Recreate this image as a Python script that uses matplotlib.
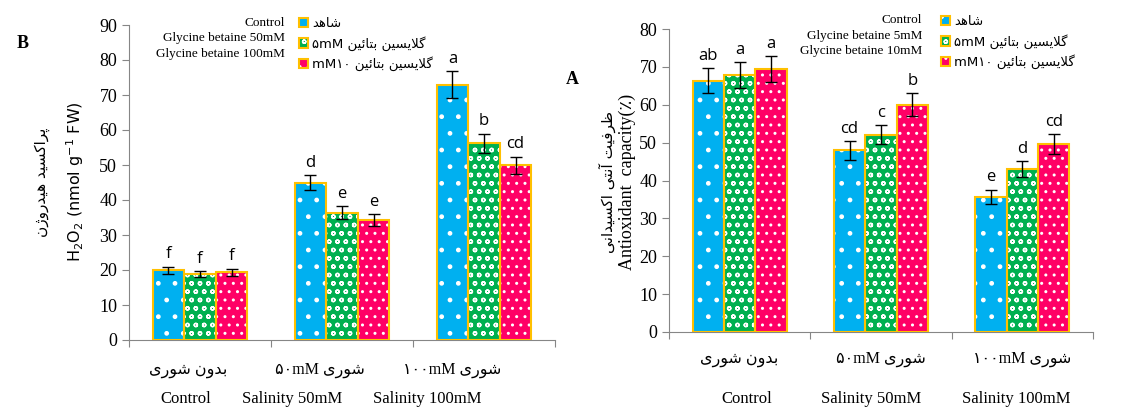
import numpy as np
import matplotlib
matplotlib.use('Agg')
import matplotlib.pyplot as plt
from matplotlib.legend_handler import HandlerTuple

# ---- data ----
groups_en = ['Control', 'Salinity 50mM', 'Salinity 100mM']
groups_fa = ['بدون شوری', 'شوری', 'شوری']
groups_fa_num = ['', '۵۰mM ', '۱۰۰mM ']

series_en_b = ['Control', 'Glycine betaine 50mM', 'Glycine betaine 100mM']
series_en_a = ['Control', 'Glycine betaine 5mM', 'Glycine betaine 10mM']
series_fa = ['شاهد', 'گلایسین بتائین', 'گلایسین بتائین']

h2o2_ctrl = [19.9, 45.0, 73.0]
h2o2_gb5 = [18.9, 36.4, 56.2]
h2o2_gb10 = [19.4, 34.2, 49.9]
h2o2_err_ctrl = [1.1, 2.2, 3.8]
h2o2_err_gb5 = [0.9, 1.9, 2.8]
h2o2_err_gb10 = [1.0, 1.7, 2.5]
h2o2_let_ctrl = ['f', 'd', 'a']
h2o2_let_gb5 = ['f', 'e', 'b']
h2o2_let_gb10 = ['f', 'e', 'cd']

aox_ctrl = [66.3, 48.0, 35.7]
aox_gb5 = [67.8, 52.1, 43.0]
aox_gb10 = [69.4, 60.0, 49.6]
aox_err_ctrl = [3.3, 2.5, 1.9]
aox_err_gb5 = [3.5, 2.5, 2.2]
aox_err_gb10 = [3.5, 3.0, 2.6]
aox_let_ctrl = ['ab', 'cd', 'e']
aox_let_gb5 = ['a', 'c', 'd']
aox_let_gb10 = ['a', 'b', 'cd']

colors = ['#00B0F0', '#00B050', '#FF0066']
hatches = ['.', 'oo', '..']
edge_col = '#FFC000'
axis_col = '#868686'
bar_w = 0.222

# Persian shaping (presentation forms), since matplotlib has no text shaping
FORMS = {
    'ا': (0xFE8D, 0xFE8E, None, None), 'آ': (0xFE81, 0xFE82, None, None),
    'د': (0xFEA9, 0xFEAA, None, None), 'ر': (0xFEAD, 0xFEAE, None, None),
    'ژ': (0xFB8A, 0xFB8B, None, None), 'و': (0xFEED, 0xFEEE, None, None),
    'ب': (0xFE8F, 0xFE90, 0xFE91, 0xFE92), 'پ': (0xFB56, 0xFB57, 0xFB58, 0xFB59),
    'ت': (0xFE95, 0xFE96, 0xFE97, 0xFE98), 'ئ': (0xFE89, 0xFE8A, 0xFE8B, 0xFE8C),
    'س': (0xFEB1, 0xFEB2, 0xFEB3, 0xFEB4), 'ش': (0xFEB5, 0xFEB6, 0xFEB7, 0xFEB8),
    'ظ': (0xFEC5, 0xFEC6, 0xFEC7, 0xFEC8), 'ف': (0xFED1, 0xFED2, 0xFED3, 0xFED4),
    'ک': (0xFB8E, 0xFB8F, 0xFB90, 0xFB91), 'گ': (0xFB92, 0xFB93, 0xFB94, 0xFB95),
    'ل': (0xFEDD, 0xFEDE, 0xFEDF, 0xFEE0), 'ن': (0xFEE5, 0xFEE6, 0xFEE7, 0xFEE8),
    'ه': (0xFEE9, 0xFEEA, 0xFEEB, 0xFEEC), 'ی': (0xFBFC, 0xFBFD, 0xFBFE, 0xFBFF),
}


def fa(text):
    out = []
    prev = False
    i = 0
    while i < len(text):
        c = text[i]
        if c not in FORMS:
            out.append(c)
            prev = False
            i += 1
            continue
        if c == 'ل' and i + 1 < len(text) and text[i + 1] == 'ا':
            out.append(chr(0xFEFC if prev else 0xFEFB))
            prev = False
            i += 2
            continue
        f = FORMS[c]
        nxt = text[i + 1] if i + 1 < len(text) else None
        joins = f[2] is not None and nxt in FORMS
        if prev and joins:
            g = f[3]
        elif prev:
            g = f[1]
        elif joins:
            g = f[2]
        else:
            g = f[0]
        out.append(chr(g))
        prev = joins
        i += 1
    return ''.join(reversed(out))


SERIF = ['Liberation Serif', 'DejaVu Sans']
SANS = ['DejaVu Sans']


def draw_panel(ax, series, errs, letters, ymax, fa_off, en_off, fa_y, en_y):
    x = np.arange(len(groups_en))
    handles = []
    for k in range(3):
        pos = x + (k - 1) * bar_w
        fill = ax.bar(pos, series[k], bar_w, color=colors[k], edgecolor='white',
                      linewidth=0, hatch=hatches[k], zorder=2)
        edge = ax.bar(pos, series[k], bar_w, facecolor='none', edgecolor=edge_col,
                      linewidth=1.5, zorder=3)
        ax.errorbar(pos, series[k], yerr=errs[k], fmt='none', ecolor='black',
                    elinewidth=1, capsize=4, capthick=1, zorder=4)
        for p, v, e, t in zip(pos, series[k], errs[k], letters[k]):
            ax.annotate(t, (p, v + e), xytext=(0, 3), textcoords='offset points',
                        ha='center', va='bottom', fontsize=12, family='Open Sans')
        handles.append((fill.patches[0], edge.patches[0]))

    ax.set_xlim(-0.5, 2.5)
    ax.set_ylim(0, ymax)
    ax.set_yticks(np.arange(0, ymax + 1, 10))
    ax.set_xticks([-0.5, 0.5, 1.5, 2.5])
    ax.set_xticklabels([])
    for s in ['top', 'right']:
        ax.spines[s].set_visible(False)
    for s in ['left', 'bottom']:
        ax.spines[s].set_color(axis_col)
    ax.tick_params(colors=axis_col, length=5, labelcolor='black')
    for lab in ax.get_yticklabels():
        lab.set_family('Liberation Serif')
        lab.set_fontsize(13)

    for i in range(3):
        ax.annotate(groups_fa_num[i] + fa(groups_fa[i]), (i + fa_off[i], 0),
                    xycoords=('data', 'axes fraction'), xytext=(0, -fa_y),
                    textcoords='offset points', ha='center', va='center',
                    fontsize=11.5, family=SERIF)
        ax.annotate(groups_en[i], (i + en_off[i], 0),
                    xycoords=('data', 'axes fraction'), xytext=(0, -en_y),
                    textcoords='offset points', ha='center', va='center',
                    fontsize=12, family='Liberation Serif')
    return handles


def add_legend(fig, ax, handles, en_labels, fa_labels, x_en, y_en, x_mark, y_mark):
    for j, t in enumerate(en_labels):
        fig.text(x_en / 1137, 1 - (y_en + j * 15.5) / 407, t, ha='right', va='center',
                 fontsize=9.5, family='Liberation Serif')
    leg = ax.legend(handles, fa_labels, handler_map={tuple: HandlerTuple(ndivide=1)},
                    loc='upper left', bbox_to_anchor=(x_mark / 1137, 1 - y_mark / 407),
                    bbox_transform=fig.transFigure, frameon=False,
                    handlelength=0.7, handleheight=0.7, handletextpad=0.3,
                    labelspacing=0.45, borderpad=0, borderaxespad=0,
                    prop={'family': SANS, 'size': 9.5})
    return leg


def run():
    fig = plt.figure(figsize=(11.37, 4.07), dpi=100)
    ax_b = fig.add_axes([129 / 1137, 67 / 407, 426 / 1137, 315 / 407])
    ax_a = fig.add_axes([669 / 1137, 75 / 407, 424 / 1137, 303 / 407])

    hb = draw_panel(ax_b, [h2o2_ctrl, h2o2_gb5, h2o2_gb10],
                    [h2o2_err_ctrl, h2o2_err_gb5, h2o2_err_gb10],
                    [h2o2_let_ctrl, h2o2_let_gb5, h2o2_let_gb10], 90,
                    [-0.085, -0.155, -0.225], [-0.10, -0.35, -0.40], 21.5, 42.5)
    ha = draw_panel(ax_a, [aox_ctrl, aox_gb5, aox_gb10],
                    [aox_err_ctrl, aox_err_gb5, aox_err_gb10],
                    [aox_let_ctrl, aox_let_gb5, aox_let_gb10], 80,
                    [0.0, 0.0, 0.0], [0.05, -0.07, -0.04], 19.5, 48)

    fa_leg = [fa(series_fa[0]), '۵mM ' + fa(series_fa[1]), 'mM۱۰ ' + fa(series_fa[2])]
    add_legend(fig, ax_b, hb, series_en_b, fa_leg, 285, 23, 299, 17)
    add_legend(fig, ax_a, ha, series_en_a, fa_leg, 922, 20, 941, 15)

    # y labels
    fig.text(42 / 1137, 1 - 182 / 407, fa('پراکسید هیدروژن'), rotation=90,
             ha='center', va='center', fontsize=11, family=SANS)
    fig.text(75 / 1137, 1 - 182 / 407, r'H$_2$O$_2$ (nmol g$^{-1}$ FW)', rotation=90,
             ha='center', va='center', fontsize=11.5, family='DejaVu Sans')
    fig.text(607 / 1137, 1 - 182 / 407, fa('ظرفیت آنتی اکسیدانی'), rotation=90,
             ha='center', va='center', fontsize=11, family=SANS)
    fig.text(627 / 1137, 1 - 182 / 407, 'Antioxidant  capacity(٪)', rotation=90,
             ha='center', va='center', fontsize=13, family=SERIF)

    fig.text(17 / 1137, 1 - 43 / 407, 'B', ha='left', va='center', fontsize=13,
             fontweight='bold', family='Liberation Serif')
    fig.text(566 / 1137, 1 - 80 / 407, 'A', ha='left', va='center', fontsize=13,
             fontweight='bold', family='Liberation Serif')

    fig.savefig('out.png', dpi=100)


if __name__ == "__main__":
    run()
